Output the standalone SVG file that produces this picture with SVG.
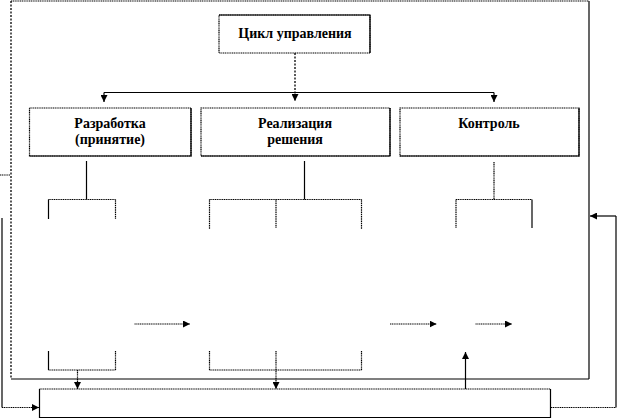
<svg xmlns="http://www.w3.org/2000/svg" width="617" height="420" viewBox="0 0 617 420">
<defs>
<marker id="ah" viewBox="0 0 8 8" refX="8" refY="4" markerWidth="7" markerHeight="7" markerUnits="userSpaceOnUse" orient="auto">
<path d="M0,0 L8,4 L0,8 z" fill="#000"/>
</marker>
</defs>
<style>
.t{font-family:"Liberation Serif","Times New Roman",serif;font-weight:bold;font-size:14px;fill:#000;text-anchor:middle}
.dot{fill:none;stroke:#000;stroke-width:1.2;stroke-dasharray:1.2 0.6}
.sol{fill:none;stroke:#000;stroke-width:1.2}
.dsh{fill:none;stroke:#000;stroke-width:1.3;stroke-dasharray:2 1.5}
</style>
<rect width="617" height="420" fill="#fff"/>
<g id="frame">
<line class="dot" x1="11" y1="1" x2="589" y2="1"/>
<line class="dsh" x1="11" y1="1" x2="11" y2="379"/>
<line class="sol" x1="589" y1="1" x2="589" y2="379"/>
<line class="sol" x1="11" y1="379" x2="589" y2="379"/>
</g>
<g id="node-cycle">
<rect class="dot" x="219" y="15" width="151" height="38"/>
<polyline class="sol" points="219,15 370,15 370,53"/>
<text class="t" x="295" y="38">Цикл  управления</text>
</g>
<g id="node-dev">
<rect class="dot" x="29.5" y="108" width="161.5" height="48"/>
<polyline class="sol" points="191,108 191,156 29.5,156" stroke="#444"/>
<text class="t" x="110" y="128">Разработка</text>
<text class="t" x="110" y="144">(принятие)</text>
</g>
<g id="node-impl">
<rect class="dot" x="201" y="108" width="189" height="48"/>
<polyline class="sol" points="390,108 390,156 201,156" stroke="#444"/>
<text class="t" x="295" y="128">Реализация</text>
<text class="t" x="295" y="144">решения</text>
</g>
<g id="node-ctrl">
<rect class="dot" x="400" y="108" width="179" height="48"/>
<polyline class="sol" points="579,108 579,156 400,156" stroke="#444"/>
<text class="t" x="489" y="128">Контроль</text>
</g>
<g id="node-bottom">
<line class="dot" x1="39.5" y1="389" x2="550.5" y2="389"/>
<polyline class="sol" points="39.5,389 39.5,417.5 550.5,417.5 550.5,389"/>
</g>
<g id="connectors">
<line class="dsh" x1="295" y1="53" x2="295" y2="101" marker-end="url(#ah)"/>
<line class="sol" x1="104" y1="92.5" x2="494" y2="92.5"/>
<line class="sol" x1="104" y1="92.5" x2="104" y2="102" marker-end="url(#ah)"/>
<line class="sol" x1="494" y1="92.5" x2="494" y2="102" marker-end="url(#ah)"/>
<line class="sol" x1="86.5" y1="161" x2="86.5" y2="199.5"/>
<line class="dot" x1="48.5" y1="199.5" x2="115.5" y2="199.5"/>
<line class="sol" x1="48.5" y1="199.5" x2="48.5" y2="219"/>
<line class="dot" x1="115.5" y1="199.5" x2="115.5" y2="219"/>
<line class="sol" x1="304.5" y1="161" x2="304.5" y2="199.5"/>
<line class="dot" x1="209.5" y1="199.5" x2="361.5" y2="199.5"/>
<line class="dot" x1="209.5" y1="199.5" x2="209.5" y2="229"/>
<line class="dot" x1="276" y1="199.5" x2="276" y2="228"/>
<line class="dot" x1="361.5" y1="199.5" x2="361.5" y2="229"/>
<line class="dot" x1="494" y1="162" x2="494" y2="199.5"/>
<line class="dot" x1="456" y1="199.5" x2="532" y2="199.5"/>
<line class="dot" x1="456" y1="199.5" x2="456" y2="228"/>
<line class="sol" x1="532" y1="199.5" x2="532" y2="228"/>
<line class="dot" x1="134.5" y1="324" x2="190" y2="324" marker-end="url(#ah)"/>
<line class="dot" x1="390" y1="324" x2="436.5" y2="324" marker-end="url(#ah)"/>
<line class="dot" x1="475.5" y1="324" x2="512" y2="324" marker-end="url(#ah)"/>
<line class="sol" x1="48.5" y1="351" x2="48.5" y2="370"/>
<line class="dot" x1="115.5" y1="351" x2="115.5" y2="370"/>
<line class="dot" x1="48.5" y1="370" x2="115.5" y2="370"/>
<line class="dot" x1="77.5" y1="370" x2="77.5" y2="389" marker-end="url(#ah)"/>
<line class="dot" x1="209.5" y1="351" x2="209.5" y2="370"/>
<line class="dot" x1="276" y1="351" x2="276" y2="389" marker-end="url(#ah)"/>
<line class="dot" x1="361.5" y1="351" x2="361.5" y2="370"/>
<line class="dot" x1="209.5" y1="370" x2="361.5" y2="370"/>
<line class="sol" x1="465.5" y1="389" x2="465.5" y2="352" marker-end="url(#ah)"/>
<line class="dot" x1="0" y1="175" x2="10" y2="175"/>
<line class="sol" x1="2" y1="218" x2="2" y2="407.5"/>
<line class="dot" x1="2" y1="407.5" x2="39" y2="407.5" marker-end="url(#ah)"/>
<line class="dot" x1="551" y1="407.5" x2="616" y2="407.5"/>
<line class="sol" x1="616" y1="407.5" x2="616" y2="216"/>
<line class="sol" x1="616" y1="216" x2="590" y2="216" marker-end="url(#ah)"/>
</g>
</svg>
